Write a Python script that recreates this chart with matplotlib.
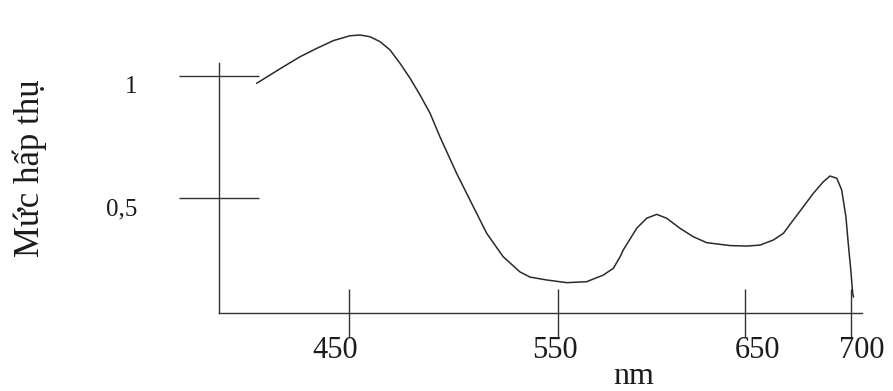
import numpy as np
import matplotlib
matplotlib.use("Agg")
import matplotlib.pyplot as plt
from matplotlib.scale import FuncScale
from matplotlib.transforms import ScaledTranslation

# ---- data ----
wavelength_nm = [405.8, 412.2, 418.6, 426.6, 434.5, 442.5, 450.5, 455.3, 460.0, 464.8,
                 469.6, 474.4, 479.2, 484.0, 488.8, 493.5, 501.5, 509.5, 515.9, 523.8,
                 531.8, 536.6, 544.6, 554.7, 565.3, 574.2, 579.6, 583.2, 584.9, 592.1,
                 597.4, 602.8, 608.1, 615.2, 622.4, 629.5, 642.0, 650.8, 657.1, 663.4,
                 668.1, 672.8, 677.5, 682.2, 687.0, 690.1, 693.3, 695.6, 697.6, 698.7,
                 699.9, 700.8, 701.2]
absorbance = [0.970, 1.004, 1.038, 1.079, 1.113, 1.145, 1.165, 1.168, 1.161, 1.141,
              1.107, 1.052, 0.991, 0.922, 0.847, 0.751, 0.601, 0.464, 0.355, 0.259,
              0.197, 0.176, 0.164, 0.153, 0.157, 0.184, 0.212, 0.259, 0.287, 0.376,
              0.417, 0.433, 0.417, 0.376, 0.341, 0.317, 0.305, 0.303, 0.307, 0.328,
              0.355, 0.410, 0.464, 0.519, 0.567, 0.590, 0.581, 0.533, 0.423, 0.314,
              0.205, 0.109, 0.094]

x_ticks = [450, 550, 650, 700]
x_tick_labels = ["450", "550", "650", "700"]
y_ticks = [0.5, 1.0]
y_tick_labels = ["0,5", "1"]
y_label = "Mức hấp thụ"
x_label = "nm"

# hand-drawn (non-uniform) wavelength axis: anchor points nm -> drawing units
axis_nm = [380.0, 450.0, 550.0, 650.0, 700.0, 710.0]
axis_pos = [202.7, 349.0, 558.0, 745.0, 851.0, 872.2]

def fwd(v):
    return np.interp(v, axis_nm, axis_pos)

def inv(v):
    return np.interp(v, axis_pos, axis_nm)

plt.rcParams['font.family'] = ['Liberation Serif', 'DejaVu Serif']
ink = '#1c1c1c'
line_c = '#333333'

W, H = 893, 391
fig = plt.figure(figsize=(W / 100, H / 100), dpi=100)
fig.patch.set_facecolor('white')
ax = fig.add_axes([219 / W, (H - 313) / H, (862 - 219) / W, (313 - 63) / H])
ax.set_xscale(FuncScale(ax, (fwd, inv)))

ax.plot(wavelength_nm, absorbance, color='#2a2a2a', lw=1.1,
        solid_joinstyle='round', solid_capstyle='round', clip_on=False)

ax.set_xlim(inv(219), inv(862))
ax.set_ylim((320 - 313) / 244, (320 - 63) / 244)

for s in ['top', 'right']:
    ax.spines[s].set_visible(False)
for s in ['left', 'bottom']:
    ax.spines[s].set_color(line_c)
    ax.spines[s].set_linewidth(1.0)

ax.set_xticks(x_ticks)
ax.set_xticklabels(x_tick_labels)
ax.xaxis.set_minor_locator(matplotlib.ticker.NullLocator())
ax.tick_params(axis='x', direction='inout', length=48 * 0.72, width=1.0,
               color=line_c, labelsize=22, labelcolor=ink, pad=-1)

ax.set_yticks(y_ticks)
ax.set_yticklabels(y_tick_labels)
ax.tick_params(axis='y', direction='inout', length=80 * 0.72, width=1.0,
               color=line_c, labelsize=18, labelcolor=ink, pad=30)
for lab in ax.get_yticklabels():
    lab.set_verticalalignment('top')

# hand-placed label offsets (pixels) as in the drawing
x_label_shift = [-14, -3, 12, 11]
for lab, dx in zip(ax.get_xticklabels(), x_label_shift):
    lab.set_transform(lab.get_transform() + ScaledTranslation(dx / 100, 0, fig.dpi_scale_trans))

fig.text(30 / W, 1 - 168 / H, y_label, rotation=90, ha='center', va='center',
         fontsize=25, color=ink)
fig.text(634 / W, 1 - 377 / H, x_label, ha='center', va='center',
         fontsize=23, color=ink)

fig.savefig('out.png', dpi=100)
